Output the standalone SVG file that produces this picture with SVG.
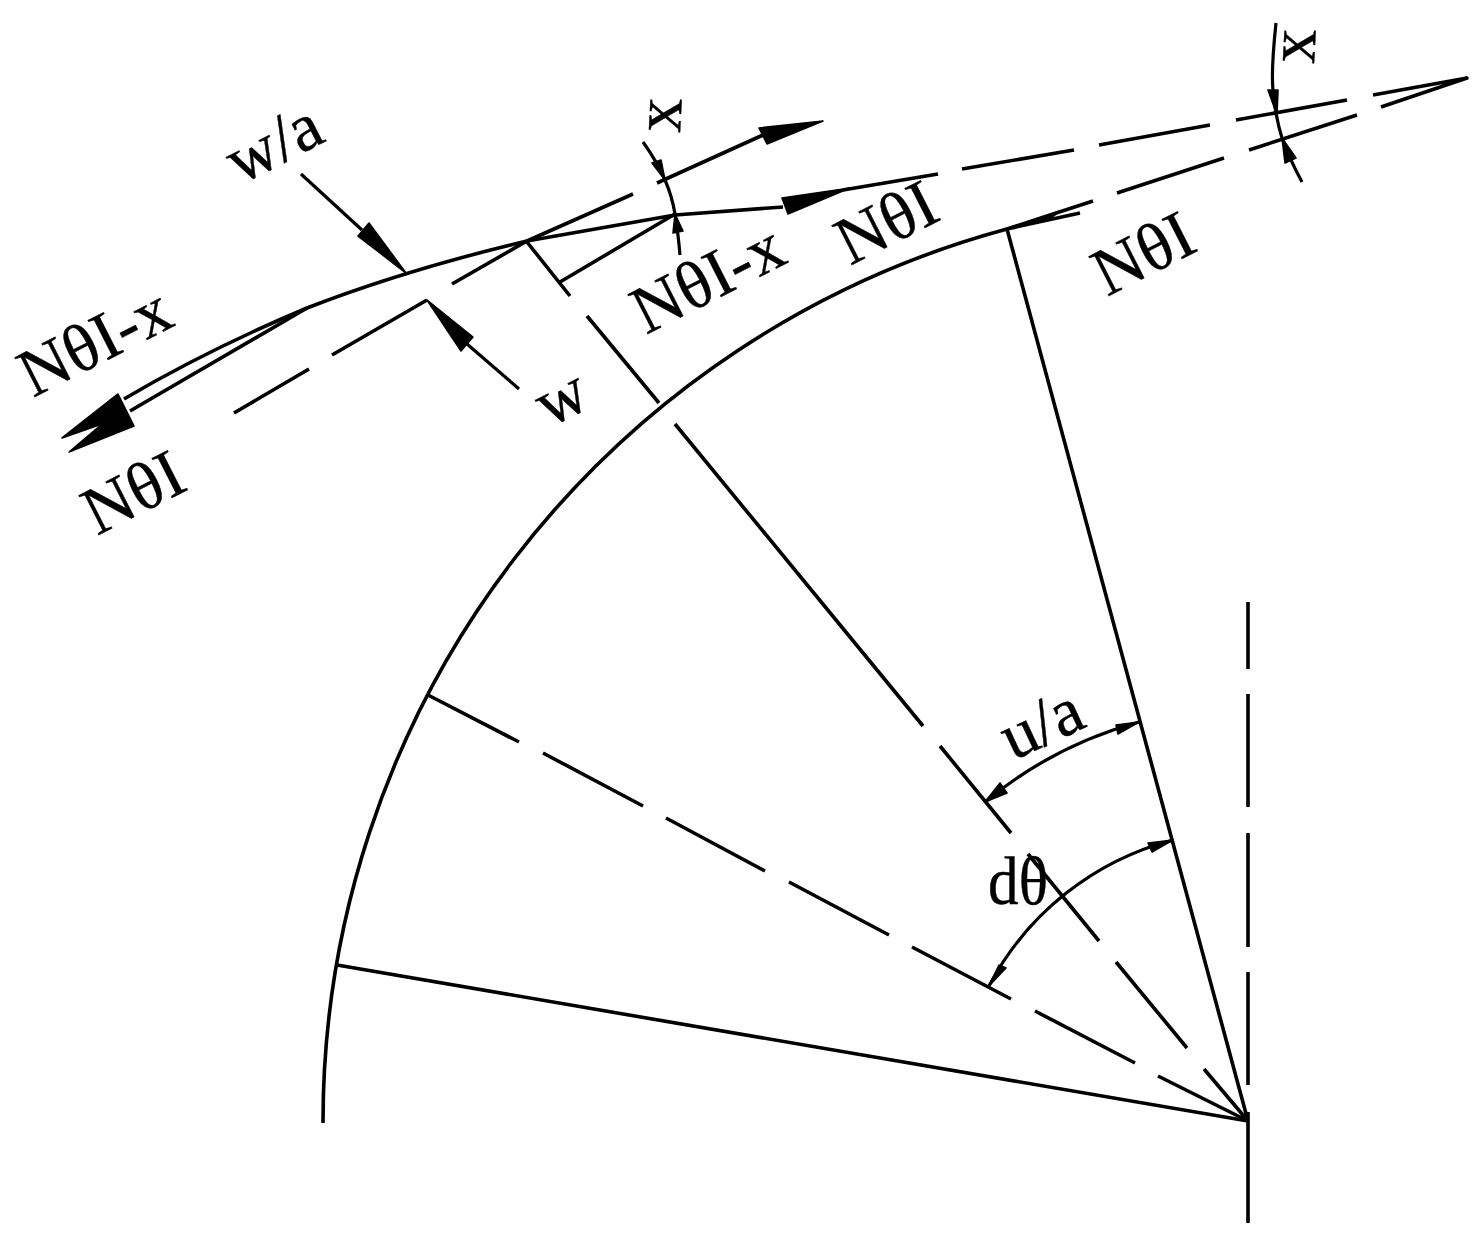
<svg xmlns="http://www.w3.org/2000/svg" width="1479" height="1236" viewBox="0 0 1479 1236">
<style>
.l{fill:none;stroke:#000;stroke-width:3.6;stroke-linecap:butt;stroke-linejoin:round}
.t{fill:none;stroke:#000;stroke-width:3.2}
.h{fill:#000;stroke:#000;stroke-width:1.6;stroke-linejoin:round}
text{font-family:"Liberation Serif","Times New Roman",serif;font-size:68px;fill:#000;stroke:#000;stroke-width:.4}
</style>
<rect width="1479" height="1236" fill="#fff"/>
<g id="structure">
<path class="l" d="M323 1123A925 925 0 0 1 1007 229"/>
<path class="l" d="M1007 229L1248 1121M337 965L1248 1121"/>
<path class="l" d="M1248 602V669M1248 694V807M1248 833V947M1248 972V1085M1248 1112V1223"/>
<path class="l" d="M428 695L519 742M543 753L643 806M666 818L765 871M789 882L889 935M912 947L1011 999M1035 1011L1135 1063M1158 1076L1248 1121"/>
<path class="l" d="M527 242L570 296M587 316L659 403M675 424L923 726M940 746L1011 833M1028 854L1099 941M1116 962L1187 1048M1204 1069L1248 1121"/>
</g>
<g id="deformed">
<path class="l" d="M124 399Q207 350 307 308Q405 270 527 241L675 215L783 207"/>
<path class="l" d="M130 411L307 308"/>
<path class="l" d="M234 413L309 369M332 355L427 300M452 284L527 241L633 194M657 183L763 135"/>
<path class="l" d="M560 282L675 214"/>
<path class="l" d="M843 190L938 174M962 169L1074 150M1099 145L1210 125M1236 120L1347 100M1373 95L1467 78L1381 107M1357 115L1249 150M1224 158L1117 193M1093 201L1007 229L1080 213"/>
<polygon class="h" points="62,438 118,394 134,426 69,452 102,424"/>
<polygon class="h" points="759,128 767,144 823,121"/>
<polygon class="h" points="782,198 788,214 850,188"/>
<polygon class="h" points="1007,229 1060,211 1050,219"/>
</g>
<g id="dimensions">
<path class="t" d="M301 174L362 230"/>
<polygon class="h" points="358,236 369,223 406,273"/>
<path class="t" d="M519 389L467 344"/>
<polygon class="h" points="427,300 473,337 461,351"/>
<path class="t" d="M643 142Q656 160 665 180Q672 196 675 214Q678 232 680 255"/>
<polygon class="h" points="652,163 661,160 665,180"/>
<polygon class="h" points="675,214 683,231 673,233"/>
<path class="t" d="M1276 23Q1271 70 1273 90Q1275 115 1282 138Q1290 160 1302 182"/>
<polygon class="h" points="1268,90 1278,90 1277,115"/>
<polygon class="h" points="1282,138 1296,158 1285,163"/>
<path class="t" d="M1139 722A414 414 0 0 0 985 802"/>
<polygon class="h" points="1139,722 1116,725 1118,734"/>
<polygon class="h" points="985,802 1000,783 1007,793"/>
<path class="t" d="M1173 840A291 291 0 0 0 989 986"/>
<polygon class="h" points="1173,840 1148,843 1152,852"/>
<polygon class="h" points="989,986 999,965 1006,968"/>
</g>
<g id="labels">
<text transform="translate(850 266) rotate(-27)">NθI</text>
<text transform="translate(1107 297) rotate(-27)">NθI</text>
<text transform="translate(97 536) rotate(-27)">NθI</text>
<text transform="translate(33 398) rotate(-27)">NθI-x</text>
<text transform="translate(646 335) rotate(-27)">NθI-x</text>
<text transform="translate(240 185) rotate(-27)">w/a</text>
<text transform="translate(549 428) rotate(-27)">w</text>
<text transform="translate(680 133) rotate(-87)">x</text>
<text transform="translate(1314 64) rotate(-87)">x</text>
<text transform="translate(1013 761) rotate(-25)">u/a</text>
<text x="988" y="904" textLength="60" lengthAdjust="spacingAndGlyphs">dθ</text>
</g>
</svg>
